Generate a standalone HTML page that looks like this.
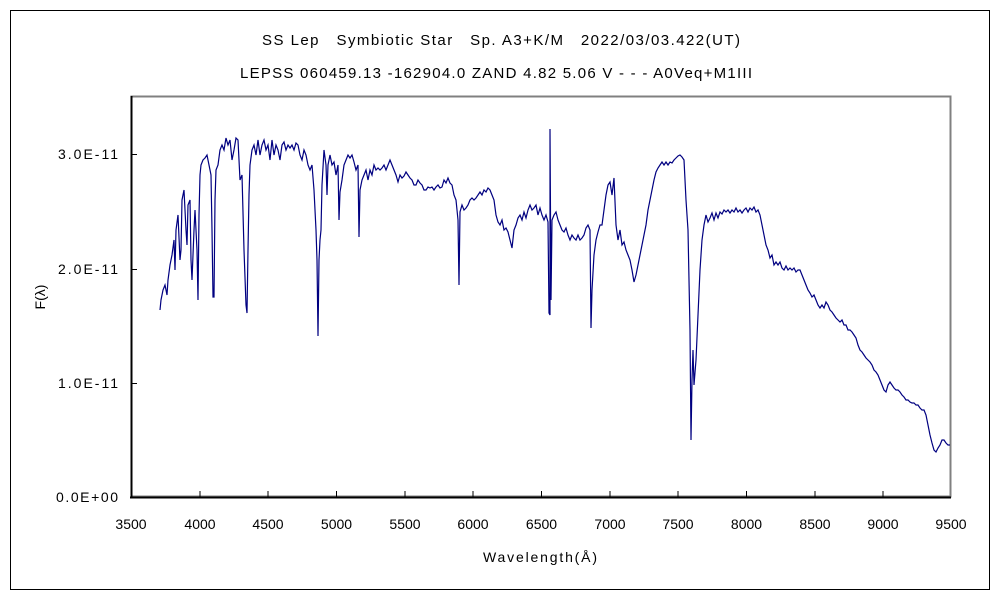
<!DOCTYPE html>
<html><head><meta charset="utf-8"><style>
body{margin:0;background:#fff;}
svg{display:block;font-family:"Liberation Sans","Noto Sans CJK JP",sans-serif;}
</style></head><body>
<svg width="1000" height="600" viewBox="0 0 1000 600">
<rect x="0" y="0" width="1000" height="600" fill="#fff"/>
<rect x="10.5" y="10.5" width="979" height="579" fill="none" stroke="#000" stroke-width="1"/>
<text x="262" y="45" font-size="15" textLength="478" lengthAdjust="spacing">SS Lep　Symbiotic Star　Sp. A3+K/M　2022/03/03.422(UT)</text>
<text x="240" y="78" font-size="15" textLength="512" lengthAdjust="spacing">LEPSS 060459.13 -162904.0 ZAND 4.82 5.06 V - - - A0Veq+M1III</text>
<rect x="131.5" y="96.5" width="819" height="400" fill="none" stroke="#808080" stroke-width="2"/>
<line x1="131.5" y1="96" x2="131.5" y2="498" stroke="#000" stroke-width="2"/>
<line x1="130" y1="497.5" x2="951" y2="497.5" stroke="#000" stroke-width="2"/>
<g stroke="#000" stroke-width="1">
<line x1="131" y1="383.5" x2="137" y2="383.5"/><line x1="131" y1="269.5" x2="137" y2="269.5"/><line x1="131" y1="154.5" x2="137" y2="154.5"/>
<line x1="200" y1="497" x2="200" y2="491"/><line x1="268" y1="497" x2="268" y2="491"/><line x1="336.5" y1="497" x2="336.5" y2="491"/><line x1="405" y1="497" x2="405" y2="491"/><line x1="473" y1="497" x2="473" y2="491"/><line x1="541.5" y1="497" x2="541.5" y2="491"/><line x1="610" y1="497" x2="610" y2="491"/><line x1="678" y1="497" x2="678" y2="491"/><line x1="746.5" y1="497" x2="746.5" y2="491"/><line x1="815" y1="497" x2="815" y2="491"/><line x1="883" y1="497" x2="883" y2="491"/>
</g>
<g font-size="14" text-anchor="end">
<text x="118" y="502" textLength="62" lengthAdjust="spacing">0.0E+00</text><text x="118" y="388" textLength="60" lengthAdjust="spacing">1.0E-11</text><text x="118" y="274" textLength="60" lengthAdjust="spacing">2.0E-11</text><text x="118" y="159" textLength="60" lengthAdjust="spacing">3.0E-11</text>
</g>
<g font-size="14" text-anchor="middle">
<text x="131" y="529">3500</text><text x="200" y="529">4000</text><text x="268" y="529">4500</text><text x="336.5" y="529">5000</text><text x="405" y="529">5500</text><text x="473" y="529">6000</text><text x="541.5" y="529">6500</text><text x="610" y="529">7000</text><text x="678" y="529">7500</text><text x="746.5" y="529">8000</text><text x="815" y="529">8500</text><text x="883" y="529">9000</text><text x="951" y="529">9500</text>
<text x="540" y="562" textLength="114" lengthAdjust="spacing">Wavelength(Å)</text>
</g>
<text x="45" y="297" font-size="14" text-anchor="middle" transform="rotate(-90 45 297)">F(λ)</text>
<polyline fill="none" stroke="#000080" stroke-width="1.2" points="160,310 161,300 163,290 165,285 167,295 168,280 170,265 172,255 174,240 175,270 176,230 178,215 180,260 181,250 182,200 184,190 186,230 187,245 188,205 190,200 191,260 192,280 194,230 195,210 197,250 198,300 199,215 200,175 201,165 203,160 205,158 207,155 209,165 211,175 212,230 213,297 214,297 215,200 216,170 218,165 220,150 222,145 224,150 226,138 228,145 230,140 232,160 234,150 236,138 238,140 240,180 242,175 244,250 246,305 247,313 248,250 249,195 250,165 252,150 254,145 256,155 258,140 260,155 262,145 264,140 266,150 268,145 270,160 272,140 274,155 276,145 278,150 280,160 282,145 284,142 286,150 288,145 290,148 292,145 294,150 296,143 298,145 300,155 302,160 304,150 306,155 308,165 310,170 312,165 314,190 316,230 317,260 318,336 319,260 320,240 321,230 322,185 324,150 326,165 327,195 328,165 330,155 332,165 334,162 336,175 338,165 339,220 340,192 342,180 344,165 346,160 348,155 350,158 352,155 354,162 356,170 358,165 359,237 360,190 362,180 364,175 366,170 368,180 370,170 372,175 374,165 376,170 378,168 380,170 382,168 384,165 386,170 388,165 390,160 392,165 394,170 396,175 398,182 400,175 402,178 404,176 406,172 408,175 410,178 412,180 414,185 416,185 418,180 420,183 422,185 424,190 426,190 428,187 430,188 432,187 434,190 436,187 438,185 440,188 442,187 444,180 446,183 448,178 450,183 452,185 454,195 456,200 458,220 459,285 460,212 462,205 464,210 466,208 468,205 470,200 472,198 474,200 476,198 478,195 480,192 482,195 484,190 486,192 488,188 490,190 492,195 494,200 496,215 498,222 500,225 502,220 504,230 506,228 508,232 510,240 512,248 514,230 516,225 518,218 520,215 522,220 524,212 526,218 528,210 530,205 532,210 534,208 536,205 538,215 540,208 542,215 544,220 546,215 548,222 549,313 550,315 550,129 551,300 552,220 554,215 556,212 558,220 560,225 562,230 564,232 566,228 568,235 570,240 572,235 574,238 576,240 578,235 580,240 582,238 584,235 586,228 588,225 590,230 591,328 592,290 594,255 596,240 598,232 600,225 602,225 604,210 606,195 608,185 610,182 612,195 614,178 616,225 618,240 620,230 622,245 624,242 626,250 628,255 630,260 632,270 634,282 636,275 638,265 640,255 642,245 644,235 646,225 648,210 650,200 652,190 654,180 656,172 658,168 660,165 662,162 664,165 666,162 668,165 670,162 672,163 674,160 676,158 678,156 680,155 682,157 684,160 686,200 688,230 690,330 691,440 692,380 693,350 694,385 696,360 698,315 700,270 702,240 704,225 706,215 708,222 710,218 712,213 714,220 716,213 718,218 720,212 722,214 724,210 726,212 728,210 730,213 732,210 734,212 736,208 738,212 740,210 742,213 744,210 746,208 748,212 750,208 752,210 754,207 756,212 758,210 760,215 762,225 764,235 766,245 768,250 770,258 772,255 774,265 776,262 778,265 780,262 782,268 784,270 786,266 788,270 790,268 792,270 794,268 796,272 798,270 800,270 802,275 804,280 806,285 808,290 810,293 812,297 814,295 816,300 818,305 820,308 822,305 824,308 826,302 828,305 830,310 832,312 834,315 836,318 838,320 840,322 842,320 844,325 846,325 848,330 850,330 852,332 854,335 856,338 858,345 860,350 862,352 864,355 866,358 868,360 870,362 872,365 874,370 876,372 878,375 880,380 882,385 884,390 886,392 888,385 890,382 892,385 894,388 896,390 898,390 900,392 902,395 904,397 906,400 908,400 910,402 912,403 914,403 916,405 918,405 920,408 922,410 924,410 926,415 928,425 930,435 932,443 934,450 936,452 938,448 940,445 942,440 944,440 946,443 948,445 950,445"/>
</svg>
</body></html>
